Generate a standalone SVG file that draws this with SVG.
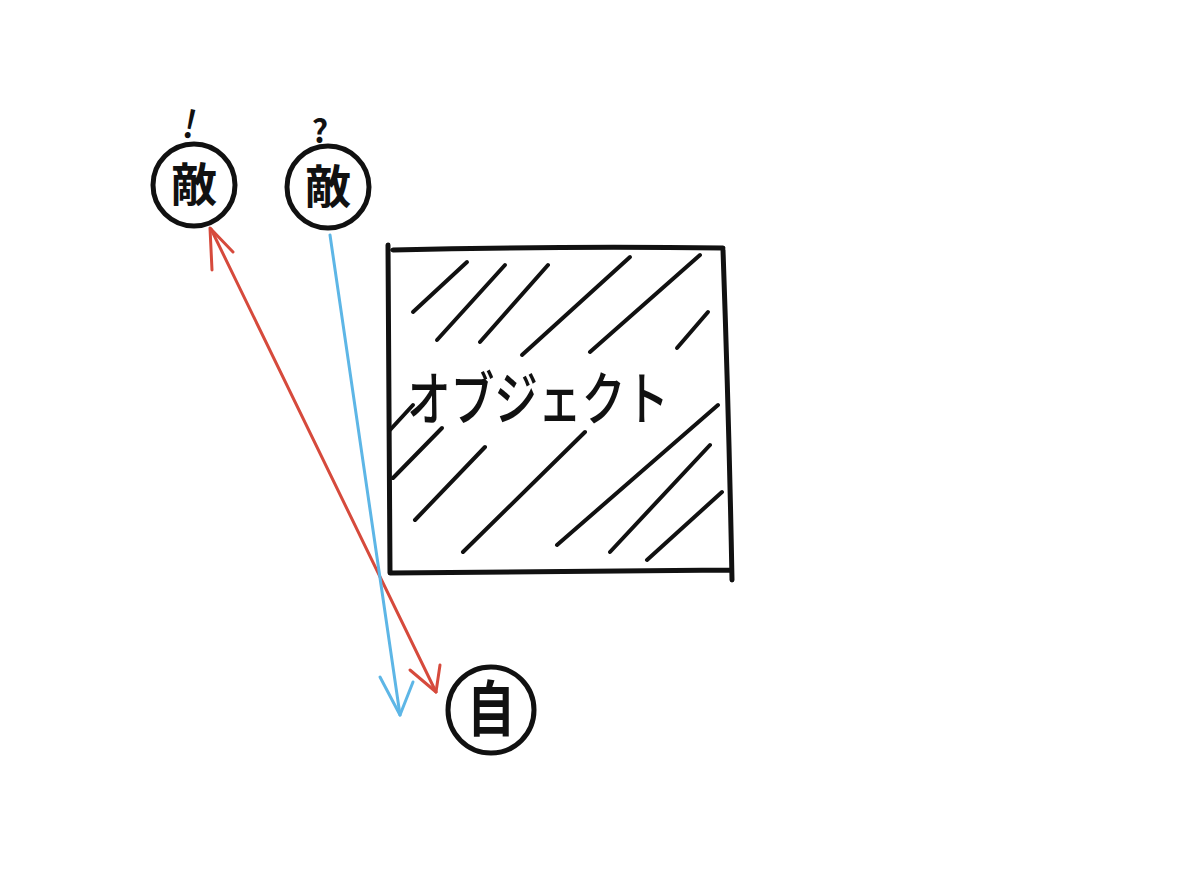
<svg xmlns="http://www.w3.org/2000/svg" width="1200" height="892" viewBox="0 0 1200 892">
<defs>
<style>
.ink{fill:none;stroke:#111;stroke-width:5;stroke-linecap:round;stroke-linejoin:round}
.hatch{fill:none;stroke:#111;stroke-width:4;stroke-linecap:round}
.lbl{font-family:"Noto Sans CJK JP","Noto Sans",sans-serif;fill:#111;text-anchor:middle}
.red{fill:none;stroke:#d64a3c;stroke-width:3;stroke-linecap:round;stroke-linejoin:round}
.blue{fill:none;stroke:#5db6e6;stroke-width:3;stroke-linecap:round;stroke-linejoin:round}
</style>
</defs>
<rect width="1200" height="892" fill="#fff"/>

<g id="object">
<path class="ink" d="M388,245 L390,573 M393,250 Q560,246 723,248 M723,250 Q729,420 732,580 M390,573 Q560,571 730,570"/>
<g class="hatch">
<path d="M413,312 L467,262"/>
<path d="M437,340 L505,265"/>
<path d="M480,342 L548,265"/>
<path d="M522,355 L630,257"/>
<path d="M590,352 L700,255"/>
<path d="M677,348 L708,312"/>
<path d="M390,430 L413,405"/>
<path d="M393,478 L442,428"/>
<path d="M415,520 L485,447"/>
<path d="M463,552 L585,432"/>
<path d="M557,545 L718,405"/>
<path d="M610,552 L710,445"/>
<path d="M647,560 L722,492"/>
</g>
<text class="lbl" x="538" y="420" font-size="58" font-weight="500" textLength="262" lengthAdjust="spacingAndGlyphs">オブジェクト</text>
</g>

<g id="enemy-alert">
<circle class="ink" cx="194" cy="185" r="41" stroke-width="4"/>
<text class="lbl" x="194" y="201" font-size="46" font-weight="700">敵</text>
<text class="lbl" x="190" y="138" font-size="38" font-weight="500" transform="rotate(12 190 124)">!</text>
</g>

<g id="enemy-unaware">
<circle class="ink" cx="328" cy="187" r="41" stroke-width="4"/>
<text class="lbl" x="328" y="203" font-size="46" font-weight="700">敵</text>
<text class="lbl" x="320" y="143" font-size="32" font-weight="700">?</text>
</g>

<g id="self">
<circle class="ink" cx="491" cy="710" r="43" stroke-width="4"/>
<text class="lbl" x="491" y="731" font-size="60" font-weight="700" transform="translate(491 0) scale(0.8 1) translate(-491 0)">自</text>
</g>

<g id="connectors">
<path class="red" d="M211,229 L436,692"/>
<path class="red" d="M212,270 L210,228 L233,252"/>
<path class="red" d="M410,670 L436,692 L440,665"/>
<path class="blue" d="M330,235 L400,715"/>
<path class="blue" d="M380,677 L400,715 L413,682"/>
</g>
</svg>
